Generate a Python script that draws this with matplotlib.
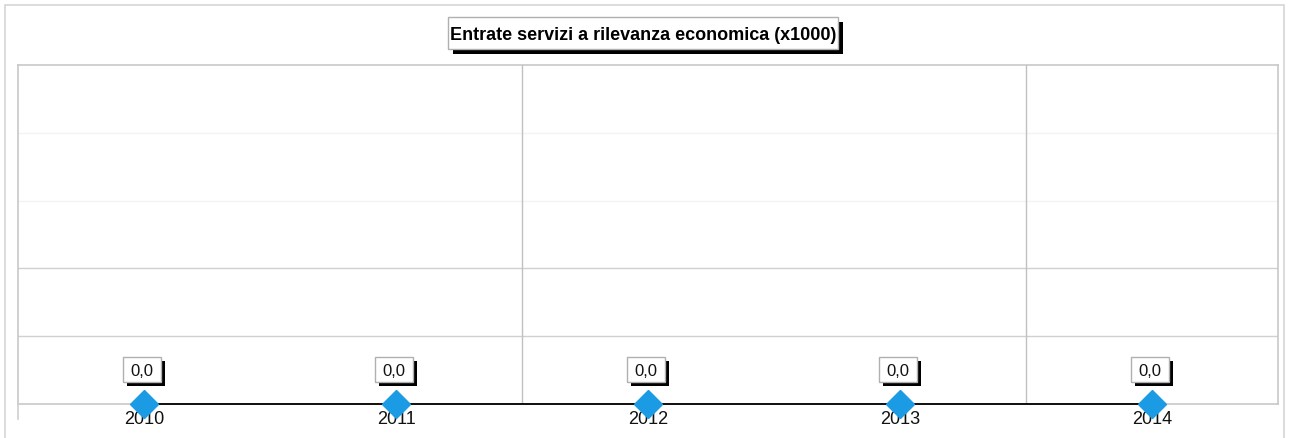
import matplotlib
matplotlib.use("Agg")
import matplotlib.pyplot as plt
from matplotlib.patches import Rectangle
from matplotlib.lines import Line2D

plt.rcParams['font.family'] = ['Liberation Sans', 'DejaVu Sans']

# data
anni = ['2010', '2011', '2012', '2013', '2014']
entrate = [0.0, 0.0, 0.0, 0.0, 0.0]
titolo = 'Entrate servizi a rilevanza economica (x1000)'

W, H = 1292, 439
fig = plt.figure(figsize=(W / 100, H / 100), dpi=100)
fig.patch.set_facecolor('white')


def box_px(cx, cy, w, h, shadow=(5, 5)):
    """shadowed box in pixel coords (y from top)"""
    y0 = H - cy - h / 2
    sh = Rectangle((cx - w / 2 + shadow[0], y0 - shadow[1]), w, h, transform=None,
                   facecolor='black', edgecolor='black', linewidth=0, zorder=10)
    bx = Rectangle((cx - w / 2, y0), w, h, transform=None,
                   facecolor='white', edgecolor='#b0b0b0', linewidth=1, zorder=11)
    fig.patches.extend([sh, bx])


# outer frame (bottom edge is cut off)
fig.patches.append(Rectangle((5 / W, -0.05), 1279 / W, 1.05 - 6 / H, transform=fig.transFigure,
                             fill=False, edgecolor='#d6d6d6', linewidth=1.2))

ax = fig.add_axes([18 / W, 1 - 405 / H, 1260 / W, 339 / H])
x = list(range(len(anni)))
ax.set_xlim(-0.5, len(anni) - 0.5)
ax.set_ylim(0, 5)

# gridlines
for gy, col in [(1, '#d0d0d0'), (2, '#d0d0d0'), (3, '#f3f3f3'), (4, '#f3f3f3')]:
    ax.axhline(gy, color=col, linewidth=1.0, zorder=0)
for gx in [1.5, 3.5]:
    ax.axvline(gx, color='#c0c0c0', linewidth=1.0, zorder=0)

for s in ax.spines.values():
    s.set_color('#c8c8c8')
    s.set_linewidth(1.2)
fig.lines.append(Line2D([18 / W, 18 / W], [1 - 405 / H, 1 - 420 / H], transform=fig.transFigure,
                        color='#d0d0d0', linewidth=1.2))

ax.set_xticks(x)
ax.set_xticklabels(anni, fontsize=13, color='#111111')
ax.tick_params(axis='x', length=0, pad=4)
ax.set_yticks([])

ax.plot(x, entrate, color='black', linewidth=1.3, zorder=3, clip_on=False)
ax.plot(x, entrate, linestyle='none', marker='D', markersize=14, color='#1a9be3',
        markeredgecolor='#1a9be3', zorder=4, clip_on=False)

# value labels with shadow
fig.canvas.draw()
for xi, v in zip(x, entrate):
    lab = f'{v:.1f}'.replace('.', ',')
    px, py = ax.transData.transform((xi, v))
    cx, cy = px - 2, (H - py) - 35
    box_px(cx, cy, 38, 25, shadow=(4, 4))
    fig.text(cx / W, 1 - (cy + 2) / H, lab, ha='center', va='center', fontsize=12,
             color='#111111', zorder=12)

# title box with shadow
box_px(643, 34, 390, 32, shadow=(5, 5))
fig.text(643 / W, 1 - 35 / H, titolo, ha='center', va='center', fontsize=13, fontweight='bold',
         color='black', zorder=12)

fig.savefig('out.png', dpi=100)
